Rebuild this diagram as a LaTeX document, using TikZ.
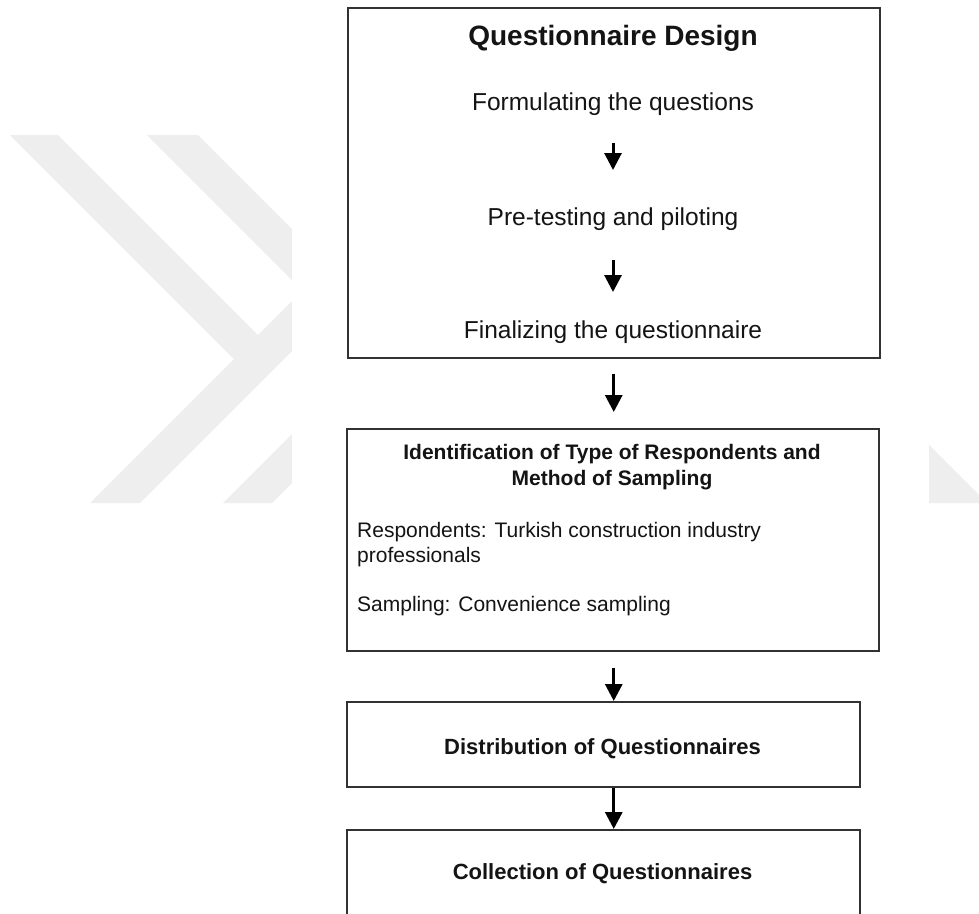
\documentclass[tikz,border=0pt]{standalone}
\usepackage{fontspec}
\setmainfont{Liberation Sans}
\usetikzlibrary{arrows.meta}

\definecolor{wm}{RGB}{238,238,238}
\definecolor{frame}{RGB}{50,50,50}
\definecolor{ink}{RGB}{20,20,20}

\begin{document}
\begin{tikzpicture}[x=1pt,y=-1pt,
  box/.style={draw=frame, line width=1.5pt, fill=white, inner sep=0pt, anchor=north west},
  title/.style={font=\bfseries\fontsize{28}{33}\selectfont, text=ink, inner sep=0pt, anchor=base},
  body/.style={font=\fontsize{24.5}{29}\selectfont, text=ink, inner sep=0pt, anchor=base},
  head/.style={font=\bfseries\fontsize{21}{25}\selectfont, text=ink, inner sep=0pt, anchor=base},
  note/.style={font=\fontsize{21}{25}\selectfont, text=ink, inner sep=0pt, anchor=base west},
  stage/.style={font=\bfseries\fontsize{22}{26}\selectfont, text=ink, inner sep=0pt, anchor=base},
  flow/.style={draw=black, line width=3pt, -{Triangle[width=17pt,length=17pt]}}
]
\clip (0,0) rectangle (979,913);
\fill[white] (0,0) rectangle (979,913);

% faint chevron logo in the page background
\fill[wm] (10,135) -- (58,135) -- (258,335) -- (310,283) -- (310,333)
          -- (140,503) -- (90,503) -- (234,359) -- cycle;
\fill[wm] (147,135) -- (198,135) -- (310,247) -- (310,298) -- cycle;
\fill[wm] (223,503) -- (272,503) -- (310,465) -- (310,416) -- cycle;
\fill[wm] (915,431) -- (987,503) -- (915,503) -- cycle;
% white sheet carrying the flowchart
\fill[white] (292,0) rectangle (929,913);

% boxes
\node[box, minimum width=532pt, minimum height=350pt] (b1) at (347,7) {};
\node[box, minimum width=532pt, minimum height=222pt] (b2) at (346,428) {};
\node[box, minimum width=513pt, minimum height=85pt]  (b3) at (346,701) {};
\node[box, minimum width=513pt, minimum height=140pt] (b4) at (346,829) {};

% questionnaire design
\node[title] (t1) at (613,45) {Questionnaire Design};
\node[body] (s1) at (613,110) {Formulating the questions};
\node[body] (s2) at (613,225) {Pre-testing and piloting};
\node[body] (s3) at (613,338) {Finalizing the questionnaire};

% respondents and sampling
\node[head] (i1) at (612,459) {Identification of Type of Respondents and};
\node[head] (i2) at (612,485) {Method of Sampling};
\node[note] (r1) at (357,537) {Respondents: Turkish construction industry};
\node[note] (r2) at (357,562) {professionals};
\node[note] (r3) at (357,611) {Sampling: Convenience sampling};

% distribution and collection
\node[stage] (d1) at (602.5,754) {Distribution of Questionnaires};
\node[stage] (c1) at (602.5,879) {Collection of Questionnaires};

% arrows
\draw[flow] ([yshift=-33pt]s1.base) -- ([yshift=55pt]s2.base);
\draw[flow] ([yshift=-35pt]s2.base) -- ([yshift=46pt]s3.base);
\draw[flow] ([yshift=-15pt]b1.south) -- ([yshift=16pt]b2.north -| b1.south);
\draw[flow] ([yshift=-16pt]b2.south -| b1.south) -- (b3.north -| b1.south);
\draw[flow] (b3.south -| b1.south) -- (b4.north -| b1.south);
\end{tikzpicture}
\end{document}
